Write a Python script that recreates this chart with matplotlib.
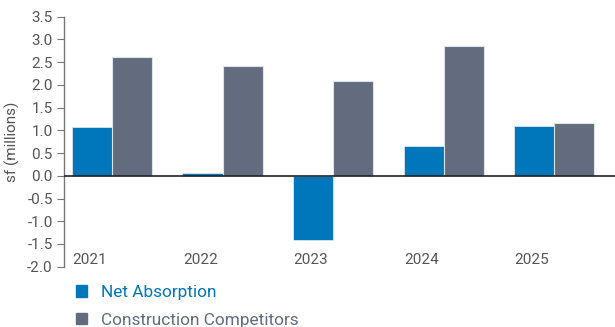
import numpy as np
import matplotlib.pyplot as plt
from matplotlib.patches import Patch

plt.rcParams['font.family'] = ['Roboto', 'DejaVu Sans']

years = ['2021', '2022', '2023', '2024', '2025']
net_absorption = [1.07, 0.06, -1.41, 0.645, 1.085]
construction = [2.61, 2.42, 2.09, 2.85, 1.16]

blue = '#0076bb'
gray = '#626c7e'
text_gray = '#555555'

fig = plt.figure(figsize=(6.15, 3.27), dpi=100)
ax = fig.add_axes([0.104, 0.1844, 0.896, 0.7646])

x = np.arange(len(years))
w = 0.362
ax.bar(x - w / 2, net_absorption, w, color=blue, edgecolor='#dde6ef', linewidth=0.6)
ax.bar(x + w / 2, construction, w, color=gray, edgecolor='#dde3ea', linewidth=0.8)

ax.set_xlim(-0.434, 4.55)
ax.set_ylim(-2.0, 3.5)
ax.set_yticks(np.arange(-2.0, 3.51, 0.5))
ax.set_yticklabels([f'{v:.1f}' for v in np.arange(-2.0, 3.51, 0.5)])
ax.set_xticks([])
ax.axhline(0, color='#222222', linewidth=1.2, zorder=3)

for s in ['top', 'right', 'bottom']:
    ax.spines[s].set_visible(False)
ax.spines['left'].set_color('#777777')
ax.spines['left'].set_linewidth(1.0)
ax.tick_params(axis='y', length=5, color='#777777', labelsize=11,
               labelcolor=text_gray, pad=3)

# year labels sit near the bottom of the plot
for i, yr in enumerate(years):
    ax.text(i - 0.2, -1.86, yr, ha='center', va='center', fontsize=11,
            color=text_gray)

ax.set_ylabel('sf (millions)', fontsize=11, color=text_gray, labelpad=5)

handles = [Patch(color=blue), Patch(color=gray)]
leg = fig.legend(handles, ['Net Absorption', 'Construction Competitors'],
                 loc='upper left', bbox_to_anchor=(0.123, 0.128), frameon=False,
                 fontsize=12.4, handlelength=0.64, handleheight=0.64,
                 handletextpad=0.82, labelspacing=0.72, borderaxespad=0,
                 borderpad=0)
for t, c in zip(leg.get_texts(), [blue, gray]):
    t.set_color(c)

fig.savefig('out.png', dpi=100)
